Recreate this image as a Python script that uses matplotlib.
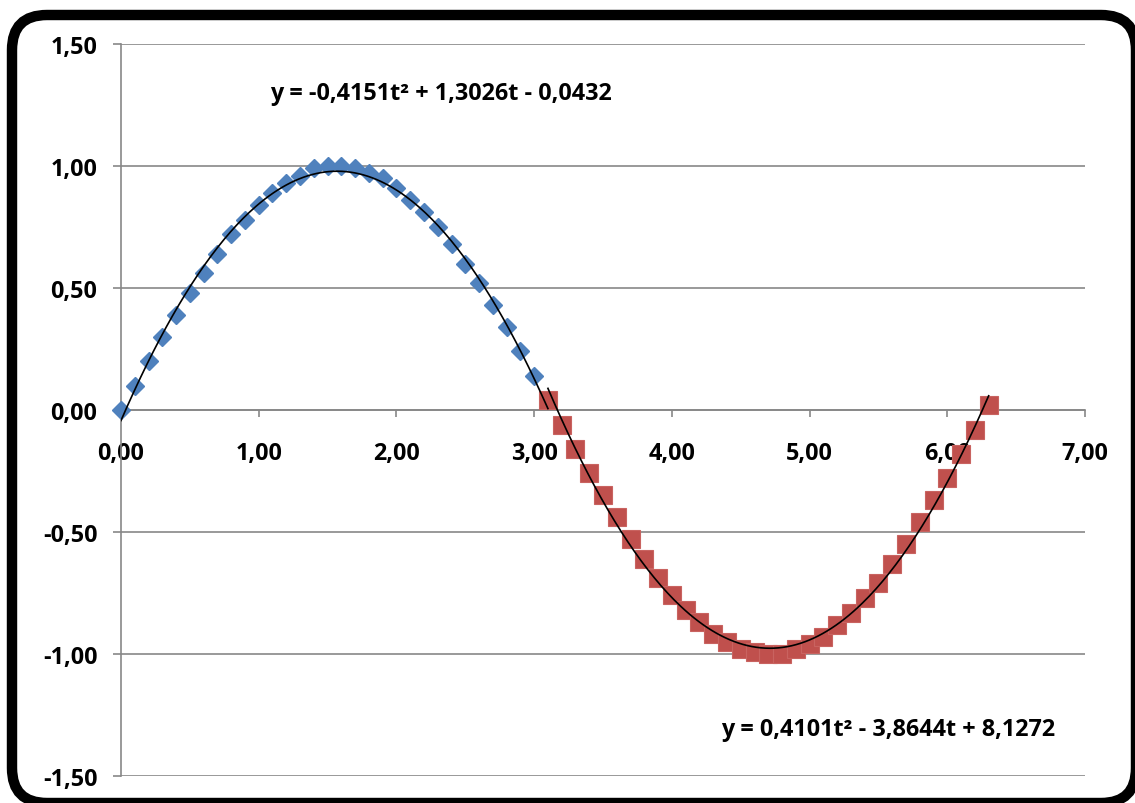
import numpy as np
import matplotlib.pyplot as plt
from matplotlib.patches import FancyBboxPatch

# blue series (diamonds)
t_blue = [0.0, 0.1, 0.2, 0.3, 0.4, 0.5, 0.6, 0.7, 0.8, 0.9, 1.0,
          1.1, 1.2, 1.3, 1.4, 1.5, 1.6, 1.7, 1.8, 1.9, 2.0,
          2.1, 2.2, 2.3, 2.4, 2.5, 2.6, 2.7, 2.8, 2.9, 3.0]
y_blue = [0.00, 0.10, 0.20, 0.30, 0.39, 0.48, 0.56, 0.64, 0.72, 0.78, 0.84,
          0.89, 0.93, 0.96, 0.99, 1.00, 1.00, 0.99, 0.97, 0.95, 0.91,
          0.86, 0.81, 0.75, 0.68, 0.60, 0.52, 0.43, 0.34, 0.24, 0.14]

# red series (squares)
t_red = [3.1, 3.2, 3.3, 3.4, 3.5, 3.6, 3.7, 3.8, 3.9, 4.0,
         4.1, 4.2, 4.3, 4.4, 4.5, 4.6, 4.7, 4.8, 4.9, 5.0,
         5.1, 5.2, 5.3, 5.4, 5.5, 5.6, 5.7, 5.8, 5.9, 6.0,
         6.1, 6.2, 6.3]
y_red = [0.04, -0.06, -0.16, -0.26, -0.35, -0.44, -0.53, -0.61, -0.69, -0.76,
         -0.82, -0.87, -0.92, -0.95, -0.98, -0.99, -1.00, -1.00, -0.98, -0.96,
         -0.93, -0.88, -0.83, -0.77, -0.71, -0.63, -0.55, -0.46, -0.37, -0.28,
         -0.18, -0.08, 0.02]

# trendline coefficients as printed on the chart
coef_blue = [-0.4151, 1.3026, -0.0432]
coef_red = [0.4101, -3.8644, 8.1272]
range_blue = [0.0, 3.1]
range_red = [3.1, 6.3]

eq_blue = "y = -0,4151t\u00b2 + 1,3026t - 0,0432"
eq_red = "y = 0,4101t\u00b2 - 3,8644t + 8,1272"

x_ticks = [0, 1, 2, 3, 4, 5, 6, 7]
y_ticks = [-1.5, -1.0, -0.5, 0.0, 0.5, 1.0, 1.5]

GRID = '#878787'
BLUE = '#4F81BD'
RED = '#C0504D'

plt.rcParams['font.family'] = ['Open Sans', 'DejaVu Sans']
plt.rcParams['font.weight'] = 'bold'
FS = 16.8

fig = plt.figure(figsize=(11.35, 8.04), dpi=100)
ax = fig.add_axes([0.1066, 0.0336, 0.8494, 0.9104])

ax.plot(t_blue, y_blue, linestyle='none', marker='D', markersize=9.5,
        color=BLUE, markeredgecolor=BLUE, zorder=3, clip_on=False)
ax.plot(t_red, y_red, linestyle='none', marker='s', markersize=13.5,
        color=RED, markeredgecolor='#C96360', markeredgewidth=0.8, zorder=3, clip_on=False)

tb = np.linspace(range_blue[0], range_blue[1], 200)
tr = np.linspace(range_red[0], range_red[1], 200)
ax.plot(tb, np.polyval(coef_blue, tb), color='black', lw=1.2, zorder=4)
ax.plot(tr, np.polyval(coef_red, tr), color='black', lw=1.2, zorder=4)

ax.text(1.08, 1.30, eq_blue, fontsize=FS, fontweight='bold', va='center', ha='left')
ax.text(4.36, -1.307, eq_red, fontsize=FS, fontweight='bold', va='center', ha='left')

ax.set_xlim(0, 7)
ax.set_ylim(-1.5, 1.5)
ax.set_xticks(x_ticks)
ax.set_yticks(y_ticks)
ax.set_xticklabels([f"{v:.2f}".replace('.', ',') for v in x_ticks])
ax.set_yticklabels([f"{v:.2f}".replace('.', ',') for v in y_ticks])

ax.yaxis.grid(True, color=GRID, lw=1.2)
ax.set_axisbelow(True)
for s in ['top', 'right']:
    ax.spines[s].set_visible(False)
ax.spines['bottom'].set_position(('data', 0))
ax.spines['bottom'].set_color(GRID)
ax.spines['left'].set_color(GRID)
ax.spines['bottom'].set_linewidth(1.2)
ax.spines['left'].set_linewidth(1.2)
ax.tick_params(axis='y', length=6, width=1.2, color=GRID, pad=11, labelsize=FS)
ax.tick_params(axis='x', length=5, width=1.2, color=GRID, pad=17, labelsize=FS)
for lab in ax.get_xticklabels() + ax.get_yticklabels():
    lab.set_fontweight('bold')

# rounded black frame around the whole chart
frame = FancyBboxPatch((0.12, 0.0), 11.24, 7.88,
                       boxstyle="round,pad=0,rounding_size=0.35",
                       transform=fig.dpi_scale_trans, fill=False,
                       edgecolor='black', lw=7.5, clip_on=False)
fig.patches.append(frame)

fig.savefig('out.png', dpi=100, facecolor='white')
